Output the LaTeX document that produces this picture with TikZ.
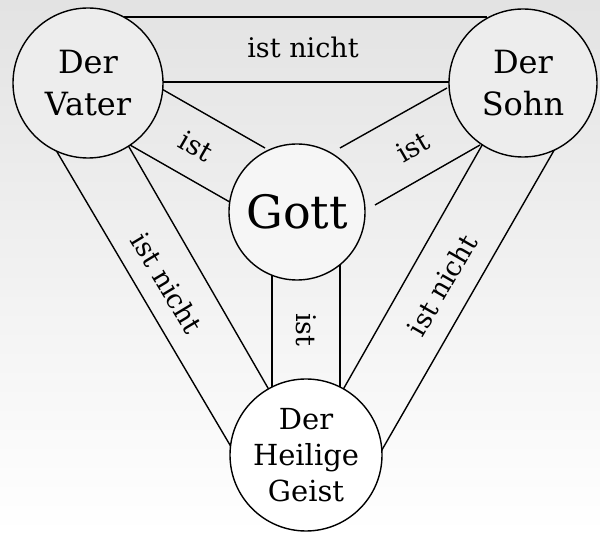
\documentclass[tikz,border=0pt]{standalone}
\usepackage{fontspec}
\setmainfont{DejaVu Serif}
\begin{document}
\begin{tikzpicture}[x=1pt,y=-1pt,
  band/.style={line width=1.4pt},
  circ/.style={circle,draw,line width=1.4pt,align=center,inner sep=0pt,font=\fontsize{32}{42}\selectfont},
  lab/.style={font=\fontsize{27}{30}\selectfont}]
\shade[top color=gray!22,bottom color=white] (0,0) rectangle (600,534);
\useasboundingbox (0,0) rectangle (600,534);
\coordinate (v) at (88,83);
\coordinate (s) at (523,83);
\coordinate (g) at (297,212);
\coordinate (h) at (306,455);
% top band
\draw[band] (124,17) -- (487,17);
\draw[band] (150,82) -- (460,82);
% inner bands
\draw[band] (160,88) -- (265,148);
\draw[band] (130,145) -- (235,205);
\draw[band] (447,88) -- (340,148);
\draw[band] (480,145) -- (375,205);
\draw[band] (272,260) -- (272,400);
\draw[band] (340,260) -- (340,400);
% outer bands
\draw[band] (50,140) -- (240,462);
\draw[band] (125,140) -- (272,395);
\draw[band] (560,140) -- (375,462);
\draw[band] (485,140) -- (340,395);
% circles
\node[circ,fill=gray!14,minimum size=150pt] (vn) at (v) {Der\\Vater};
\node[circ,fill=gray!14,minimum size=148pt] (sn) at (s) {Der\\Sohn};
\node[circ,fill=gray!7,minimum size=136pt,font=\fontsize{46}{50}\selectfont] (gn) at (g) {Gott};
\node[circ,fill=white,minimum size=152pt,font=\fontsize{29}{36}\selectfont] (hn) at (h) {Der\\Heilige\\Geist};
% labels
\node[lab] (l1) at (303,47) {ist nicht};
\node[lab,rotate=-30] (l2) at (196,146) {ist};
\node[lab,rotate=30] (l3) at (413,147) {ist};
\node[lab,rotate=-90] (l4) at (306,330) {ist};
\node[lab,rotate=-59] (l5) at (167,283) {ist nicht};
\node[lab,rotate=60] (l6) at (442,285) {ist nicht};
\end{tikzpicture}
\end{document}
